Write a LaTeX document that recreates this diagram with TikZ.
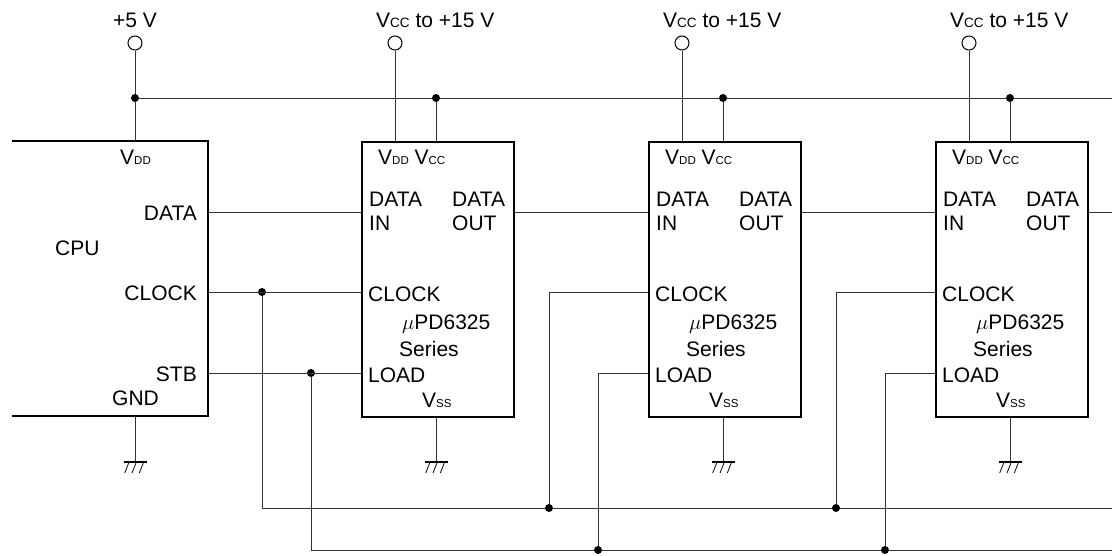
\documentclass[tikz,border=0pt]{standalone}
\usepackage{fontspec}
\setmainfont{Liberation Sans}
\newcommand\subsm[1]{{\fontsize{11.5}{12}\selectfont #1}}
\newcommand\subsl[1]{{\fontsize{13.5}{14}\selectfont #1}}
\tikzset{
  wire/.style={line width=1pt, black!80},
  boxline/.style={line width=2pt, black},
  jdot/.style={circle, fill=black, inner sep=0pt, minimum size=8pt},
  term/.style={circle, draw, line width=1pt, fill=white, inner sep=0pt, minimum size=14pt},
  lbl/.style={font=\fontsize{21}{24}\selectfont, inner sep=0pt},
  gndsym/.pic={
    \draw[line width=2pt] (-11.5,0) -- (11.5,0);
    \foreach \d in {-10.3,-3,4.3} \draw[line width=0.8pt] (\d,11) -- (\d+4,1);
  }
}
\begin{document}
\begin{tikzpicture}[x=1pt,y=-1pt]
\useasboundingbox (0,0) rectangle (1112,555);

% CPU
\draw[boxline] (12,141) -- (208,141) -- (208,416) -- (12,416);
\node[lbl, anchor=base west] (cpuvdd) at (120,164) {V\subsm{DD}};
\node[lbl, anchor=base east] (cpudata) at (197,220) {DATA};
\node[lbl, anchor=base east] (cpuclk) at (197,300) {CLOCK};
\node[lbl, anchor=base east] (cpustb) at (197,381) {STB};
\node[lbl, anchor=base west] (cpugnd) at (112,405) {GND};
\node[lbl, anchor=base west] (cpu) at (55,255) {CPU};
\node[lbl, anchor=base] (p5) at (135,27) {+5 V};
\node[term] (t0) at (135,43) {};
\coordinate (cputop) at (135,141);
\coordinate (cpubot) at (135,416);
\node[jdot] (j5) at (135,98) {};
\coordinate (busR) at (1112,98);
\draw[wire] (t0) -- (j5) -- (cputop);
\draw[wire] (j5) -- (busR);
\coordinate (g0) at (135,462);
\draw[wire] (cpubot) -- (g0);
\pic at (g0) {gndsym};

% ICs
\foreach \i/\L in {1/361, 2/648, 3/935} {
  \node[draw, boxline, minimum width=152pt, minimum height=275pt, inner sep=0pt, anchor=north west] (ic\i) at (\L,141) {};
  \node[term] (t\i) at (\L+34,43) {};
  \node[lbl, anchor=base west] (vl\i) at (\L+15,27) {V\subsl{CC} to +15 V};
  \node[jdot] (jv\i) at (\L+75,98) {};
  \draw[wire] (t\i) -- (ic\i.north -| t\i);
  \draw[wire] (jv\i) -- (ic\i.north -| jv\i);
  \coordinate (g\i) at (\L+75,462);
  \draw[wire] (ic\i.south -| g\i) -- (g\i);
  \pic at (g\i) {gndsym};
  \node[lbl, anchor=base west] (pv\i) at (\L+17,164) {V\subsm{DD} V\subsm{CC}};
  \node[lbl, anchor=base west] (di\i) at (\L+8,206) {DATA};
  \node[lbl, anchor=base west] (dii\i) at (\L+8,230) {IN};
  \node[lbl, anchor=base west] (do\i) at (\L+91,206) {DATA};
  \node[lbl, anchor=base west] (doo\i) at (\L+91,230) {OUT};
  \node[lbl, anchor=base west] (ck\i) at (\L+7,301) {CLOCK};
  \node[lbl, anchor=base west] (pd\i) at (\L+41,329) {$\mu$PD6325};
  \node[lbl, anchor=base west] (se\i) at (\L+38,356) {Series};
  \node[lbl, anchor=base west] (ld\i) at (\L+7,382) {LOAD};
  \node[lbl, anchor=base west] (vs\i) at (\L+61,407) {V\subsm{SS}};
}

% DATA chain
\coordinate (cd) at (208,212);
\coordinate (dR) at (1112,212);
\draw[wire] (cd) -- (cd -| ic1.west);
\draw[wire] (ic1.east |- cd) -- (ic2.west |- cd);
\draw[wire] (ic2.east |- cd) -- (ic3.west |- cd);
\draw[wire] (ic3.east |- cd) -- (dR);

% CLOCK
\coordinate (cc) at (208,292);
\node[jdot] (jc0) at (262,292) {};
\coordinate (cbl) at (262,508);
\coordinate (cbR) at (1112,508);
\draw[wire] (cc) -- (cc -| ic1.west);
\draw[wire] (jc0) -- (cbl) -- (cbR);
\node[jdot] (jc1) at (549,508) {};
\node[jdot] (jc2) at (836,508) {};
\draw[wire] (jc1) -- (jc1 |- cc) -- (ic2.west |- cc);
\draw[wire] (jc2) -- (jc2 |- cc) -- (ic3.west |- cc);

% LOAD / STB
\coordinate (cs) at (208,373);
\node[jdot] (js0) at (311,373) {};
\coordinate (sbl) at (311,550);
\coordinate (sbR) at (1112,550);
\draw[wire] (cs) -- (cs -| ic1.west);
\draw[wire] (js0) -- (sbl) -- (sbR);
\node[jdot] (js1) at (598,550) {};
\node[jdot] (js2) at (885,550) {};
\draw[wire] (js1) -- (js1 |- cs) -- (ic2.west |- cs);
\draw[wire] (js2) -- (js2 |- cs) -- (ic3.west |- cs);
\end{tikzpicture}
\end{document}
